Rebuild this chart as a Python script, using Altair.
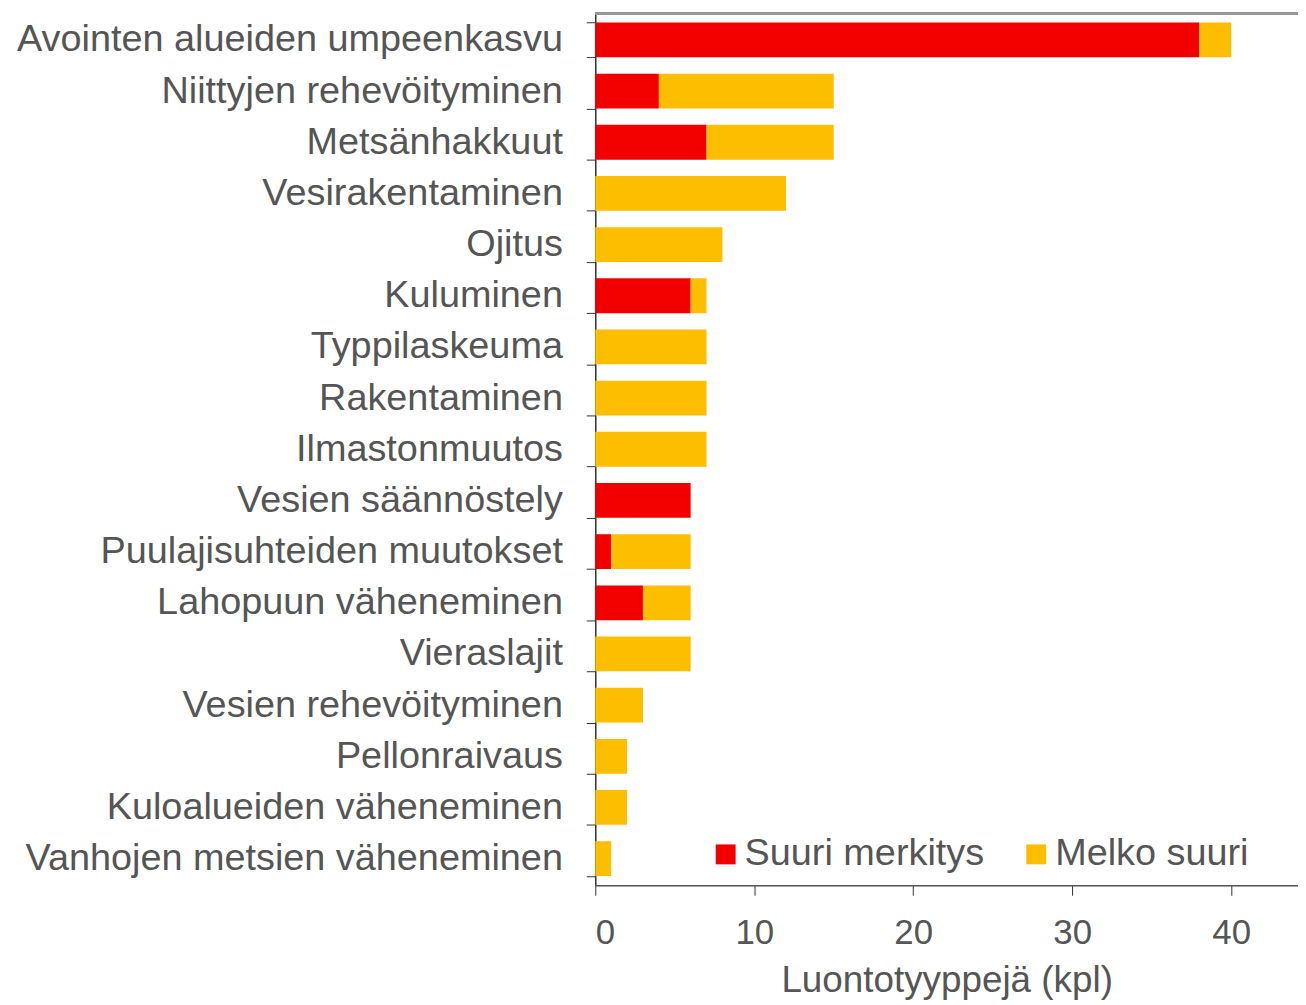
import altair as alt
import pandas as pd

categories = [
    "Avointen alueiden umpeenkasvu",
    "Niittyjen rehevöityminen",
    "Metsänhakkuut",
    "Vesirakentaminen",
    "Ojitus",
    "Kuluminen",
    "Typpilaskeuma",
    "Rakentaminen",
    "Ilmastonmuutos",
    "Vesien säännöstely",
    "Puulajisuhteiden muutokset",
    "Lahopuun väheneminen",
    "Vieraslajit",
    "Vesien rehevöityminen",
    "Pellonraivaus",
    "Kuloalueiden väheneminen",
    "Vanhojen metsien väheneminen",
]
suuri = [38, 4, 7, 0, 0, 6, 0, 0, 0, 6, 1, 3, 0, 0, 0, 0, 0]
melko = [2, 11, 8, 12, 8, 1, 7, 7, 7, 0, 5, 3, 6, 3, 2, 2, 1]
series = ["Suuri merkitys", "Melko suuri"]
colors = ["#f20000", "#fdbe00"]
x_ticks = [0, 10, 20, 30, 40]

rows = []
for c, s, m in zip(categories, suuri, melko):
    rows.append({"cat": c, "series": series[0], "order": 0, "value": s})
    rows.append({"cat": c, "series": series[1], "order": 1, "value": m})
df = pd.DataFrame(rows)

W, H = 706, 876
FONT = "Liberation Sans"
GRAY = "#555555"

bars = alt.Chart(df).mark_bar().encode(
    y=alt.Y("cat:N", sort=categories,
            scale=alt.Scale(paddingInner=0.32, paddingOuter=0.18),
            axis=alt.Axis(title=None, labelFontSize=38, labelColor=GRAY,
                          labelFont=FONT, labelPadding=24, tickSize=9,
                          tickBand="extent", tickColor="#333333",
                          domainColor="#333333", domainWidth=1.5,
                          labelLimit=700)),
    x=alt.X("value:Q", stack="zero",
            scale=alt.Scale(domain=[0, 44.2], nice=False),
            axis=alt.Axis(values=x_ticks, title="Luontotyyppejä (kpl)",
                          titleFontSize=37, titleColor=GRAY, titleFont=FONT,
                          titleFontWeight="normal", titlePadding=12,
                          labelFontSize=35, labelColor=GRAY, labelFont=FONT,
                          labelPadding=21, tickSize=10, tickColor="#333333",
                          domainColor="#555555", domainWidth=1.5,
                          grid=False)),
    color=alt.Color("series:N", sort=series,
                    scale=alt.Scale(domain=series, range=colors),
                    legend=alt.Legend(title=None, orient="none",
                                      direction="horizontal",
                                      legendX=104, legendY=818,
                                      symbolType="square", symbolSize=400,
                                      symbolStrokeWidth=0,
                                      labelFontSize=38, labelColor=GRAY,
                                      labelFont=FONT, labelOffset=0,
                                      labelLimit=400,
                                      columnPadding=33, fillColor="white",
                                      padding=8)),
    order=alt.Order("order:Q"),
)

top = alt.Chart(df).mark_rule(color="#999999", strokeWidth=2).encode(
    x=alt.value(0), x2=alt.value(W), y=alt.value(0)
)

chart = (bars + top).properties(
    width=W, height=H,
    autosize=alt.AutoSizeParams(type="none"),
    padding={"left": 590, "top": 3, "right": 0, "bottom": 118},
).configure_view(stroke=None).configure(font=FONT, background="white")

chart.save("out.html", embed_options={"renderer": "svg", "actions": False})
